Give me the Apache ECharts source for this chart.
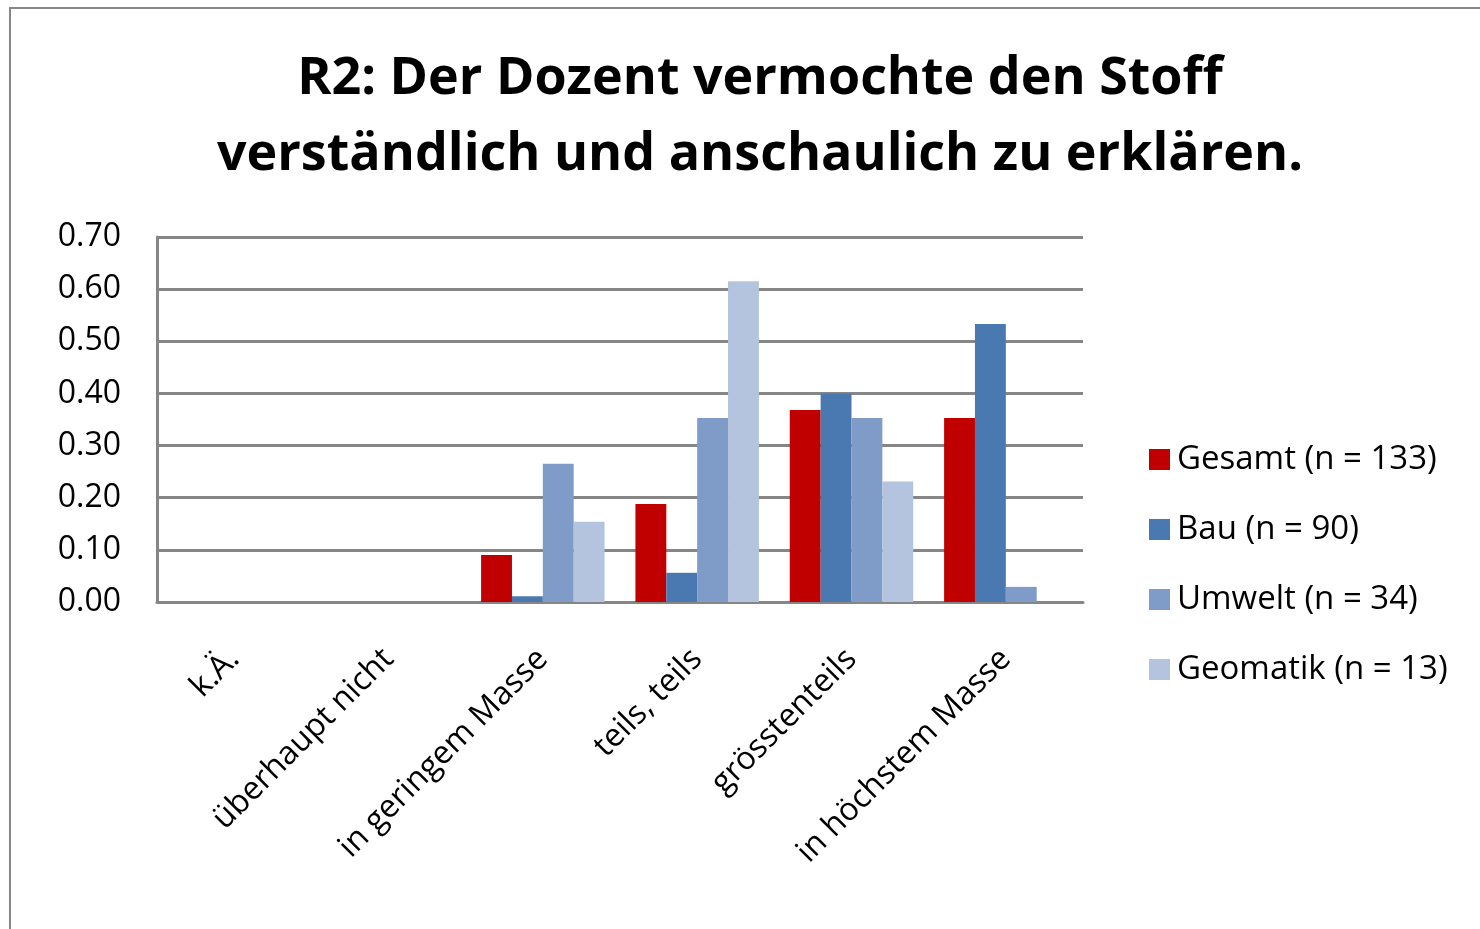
<!DOCTYPE html>
<html>
<head>
<meta charset="utf-8">
<script src="https://cdn.jsdelivr.net/npm/echarts@6/dist/echarts.min.js"></script>
<style>
  html, body { margin: 0; padding: 0; background: #fff; }
  #chart { width: 1480px; height: 929px; }
</style>
</head>
<body>
<div id="chart"></div>
<script>
// Antwortkategorien
const categories = ['k.Ä.', 'überhaupt nicht', 'in geringem Masse', 'teils, teils', 'grösstenteils', 'in höchstem Masse'];
const yTicks = [0, 0.1, 0.2, 0.3, 0.4, 0.5, 0.6, 0.7];

// Anteile pro Gruppe
const gesamt = [0, 0, 0.09, 0.188, 0.368, 0.353];
const bau = [0, 0, 0.011, 0.056, 0.4, 0.533];
const umwelt = [0, 0, 0.265, 0.353, 0.353, 0.029];
const geomatik = [0, 0, 0.154, 0.615, 0.231, 0];

const seriesNames = ['Gesamt (n = 133)', 'Bau (n = 90)', 'Umwelt (n = 34)', 'Geomatik (n = 13)'];
const colors = ['#c00000', '#4a78b0', '#7f9cc8', '#b4c4de'];

const chart = echarts.init(document.getElementById('chart'));
const font = '"Open Sans", "Liberation Sans", sans-serif';

const option = {
  animation: false,
  backgroundColor: '#fff',
  title: {
    text: 'R2: Der Dozent vermochte den Stoff\nverständlich und anschaulich zu erklären.',
    left: 755,
    top: 36,
    textAlign: 'center',
    textStyle: { fontFamily: font, fontSize: 52, fontWeight: 'bold', color: '#000', lineHeight: 76 }
  },
  legend: {
    orient: 'vertical',
    left: 1144,
    top: 438,
    itemGap: 37,
    itemWidth: 21,
    itemHeight: 21,
    icon: 'rect',
    textStyle: { fontFamily: font, fontSize: 33, color: '#000', padding: [0, 0, 0, 2] },
    data: seriesNames
  },
  grid: { left: 157, top: 237, width: 926, height: 365, containLabel: false },
  xAxis: {
    type: 'category',
    data: categories,
    axisLine: { lineStyle: { color: '#868686', width: 3 } },
    axisTick: { show: false },
    axisLabel: {
      rotate: 45,
      margin: 52,
      interval: 0,
      fontFamily: font,
      fontSize: 32,
      color: '#000'
    }
  },
  yAxis: {
    type: 'value',
    min: 0,
    max: 0.7,
    interval: 0.1,
    axisLine: { show: true, lineStyle: { color: '#868686', width: 3 } },
    axisTick: { show: false },
    splitLine: { lineStyle: { color: '#868686', width: 3 } },
    axisLabel: {
      margin: 36,
      fontFamily: font,
      fontSize: 32,
      color: '#000',
      formatter: v => v.toFixed(2)
    }
  },
  series: [gesamt, bau, umwelt, geomatik].map((d, i) => ({
    name: seriesNames[i],
    type: 'bar',
    data: d,
    barGap: '0%',
    barCategoryGap: '20%',
    itemStyle: { color: colors[i] }
  })),
  graphic: [
    {
      type: 'rect',
      shape: { x: 10, y: 8, width: 1490, height: 940 },
      style: { fill: 'none', stroke: '#868686', lineWidth: 2 },
      silent: true
    }
  ]
};

chart.setOption(option);
</script>
</body>
</html>
